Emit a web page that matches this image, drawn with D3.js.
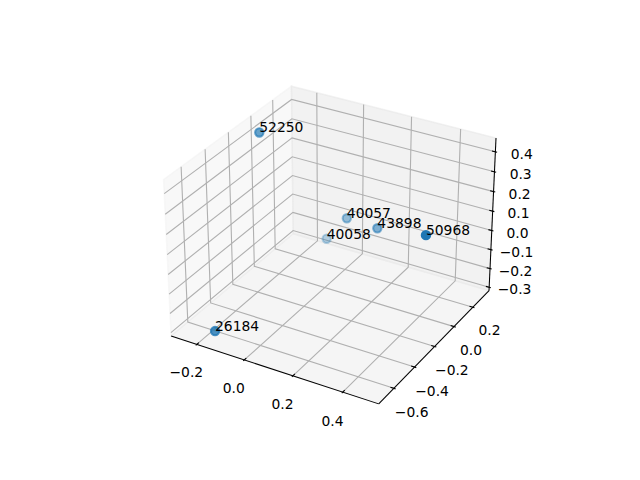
<!DOCTYPE html>
<html>
<head>
<meta charset="utf-8">
<script src="https://cdn.jsdelivr.net/npm/d3@7"></script>
<style>
  body { margin: 0; background: #fff; }
  text { font-family: "DejaVu Sans", sans-serif; font-size: 13.89px; fill: #000; }
</style>
</head>
<body>
<svg id="vis" width="640" height="480"></svg>
<script>
// point labels and their 3D coordinates
var labels = ["26184", "52250", "50968", "40058", "40057", "43898"];
var xs = [-0.156, -0.256, 0.487, -0.127, -0.007, 0.147];
var ys = [-0.671, -0.040, -0.180, 0.306, 0.233, 0.177];
var zs = [-0.268, 0.418, 0.217, -0.247, -0.061, -0.034];

// tick values
var xTicks = [-0.2, 0.0, 0.2, 0.4];
var yTicks = [-0.6, -0.4, -0.2, 0.0, 0.2];
var zTicks = [-0.3, -0.2, -0.1, 0.0, 0.1, 0.2, 0.3, 0.4];

(function () {
    var svg = d3.select("#vis");
    var fs = 13.89;

    // view like matplotlib's default 3D axes: elev 30, azim -60, dist 10
    var dist = 10;
    var elev = 30 * Math.PI / 180, azim = -60 * Math.PI / 180;
    var aspect = [4, 4, 3].map(function (a) { return a * 1.8294640721620434 / Math.sqrt(41); });
    var R = aspect.map(function (a) { return a / 2; });

    var w = [Math.cos(elev) * Math.cos(azim), Math.cos(elev) * Math.sin(azim), Math.sin(elev)];
    var u = [-w[1], w[0], 0];
    var un = Math.hypot(u[0], u[1]);
    u = [u[0] / un, u[1] / un, 0];
    var v = [w[1] * u[2] - w[2] * u[1], w[2] * u[0] - w[0] * u[2], w[0] * u[1] - w[1] * u[0]];

    function dot(a, b) { return a[0] * b[0] + a[1] * b[1] + a[2] * b[2]; }

    // square axes box inside the default subplot area
    var side = 0.77 * 480;
    var left = 80 + (496 - side) / 2, top = 57.6;
    var px2 = d3.scaleLinear().domain([-0.95 / dist, 0.9 / dist]).range([left, left + side]);
    var py2 = d3.scaleLinear().domain([-0.95 / dist, 0.9 / dist]).range([top + side, top]);

    // world point -> [screen x, screen y, depth]
    function proj(p) {
        var d = [p[0] - R[0], p[1] - R[1], p[2] - R[2]];
        var D = dist - dot(w, d);
        return [px2(dot(u, d) / D), py2(dot(v, d) / D), -dist / D];
    }

    // data -> world scales with 5% margins
    function lim(a) {
        var e = d3.extent(a), r = e[1] - e[0];
        return [e[0] - 0.05 * r, e[1] + 0.05 * r];
    }
    var sx = d3.scaleLinear().domain(lim(xs)).range([0, aspect[0]]);
    var sy = d3.scaleLinear().domain(lim(ys)).range([0, aspect[1]]);
    var sz = d3.scaleLinear().domain(lim(zs)).range([0, aspect[2]]);

    var lo = aspect.map(function (a) { return -a / 48; });
    var hi = aspect.map(function (a) { return a * 49 / 48; });
    var delta = aspect.map(function (a) { return a / 12; });

    var line = d3.line();
    function path3(pts) { return line(pts.map(function (p) { return proj(p).slice(0, 2); })); }

    // panes
    var panes = [
        {c: "rgba(242,242,242,0.5)", p: [[lo[0], lo[1], lo[2]], [lo[0], hi[1], lo[2]], [lo[0], hi[1], hi[2]], [lo[0], lo[1], hi[2]]]},
        {c: "rgba(230,230,230,0.5)", p: [[lo[0], hi[1], lo[2]], [hi[0], hi[1], lo[2]], [hi[0], hi[1], hi[2]], [lo[0], hi[1], hi[2]]]},
        {c: "rgba(236,236,236,0.5)", p: [[lo[0], lo[1], lo[2]], [hi[0], lo[1], lo[2]], [hi[0], hi[1], lo[2]], [lo[0], hi[1], lo[2]]]}
    ];
    svg.selectAll("path.pane").data(panes).enter().append("path")
        .attr("class", "pane")
        .attr("d", function (d) { return path3(d.p) + "Z"; })
        .attr("fill", function (d) { return d.c; })
        .attr("stroke", function (d) { return d.c; })
        .attr("stroke-width", 1.39);

    // grid lines
    var grid = [];
    xTicks.forEach(function (t) { var x = sx(t); grid.push([[x, lo[1], lo[2]], [x, hi[1], lo[2]], [x, hi[1], hi[2]]]); });
    yTicks.forEach(function (t) { var y = sy(t); grid.push([[hi[0], y, lo[2]], [lo[0], y, lo[2]], [lo[0], y, hi[2]]]); });
    zTicks.forEach(function (t) { var z = sz(t); grid.push([[lo[0], lo[1], z], [lo[0], hi[1], z], [hi[0], hi[1], z]]); });
    svg.selectAll("path.grid").data(grid).enter().append("path")
        .attr("class", "grid")
        .attr("d", path3)
        .attr("fill", "none")
        .attr("stroke", "#b0b0b0")
        .attr("stroke-width", 1.11);

    // axis lines
    var axes = [
        [[lo[0], lo[1], lo[2]], [hi[0], lo[1], lo[2]]],
        [[hi[0], lo[1], lo[2]], [hi[0], hi[1], lo[2]]],
        [[hi[0], hi[1], lo[2]], [hi[0], hi[1], hi[2]]]
    ];
    svg.selectAll("path.axis").data(axes).enter().append("path")
        .attr("class", "axis")
        .attr("d", path3)
        .attr("fill", "none")
        .attr("stroke", "#000")
        .attr("stroke-width", 1.04);

    // ticks and tick labels
    var f = 11.5 * 48 / (72 * 2 * side / 100);
    var fmt = function (t) { return d3.format(".1f")(t).replace("-", "\u2212"); };
    var tickMarks = [], tickLabels = [];
    xTicks.forEach(function (t) {
        var x = sx(t);
        tickMarks.push([[x, lo[1] - 0.1 * delta[1], lo[2]], [x, lo[1] + 0.2 * delta[1], lo[2]]]);
        tickLabels.push({t: t, p: [x, lo[1] - f * delta[1], lo[2] - f * delta[2]]});
    });
    yTicks.forEach(function (t) {
        var y = sy(t);
        tickMarks.push([[hi[0] + 0.1 * delta[0], y, lo[2]], [hi[0] - 0.2 * delta[0], y, lo[2]]]);
        tickLabels.push({t: t, p: [hi[0] + f * delta[0], y, lo[2] - f * delta[2]]});
    });
    zTicks.forEach(function (t) {
        var z = sz(t);
        tickMarks.push([[hi[0] + 0.1 * delta[0], hi[1], z], [hi[0] - 0.2 * delta[0], hi[1], z]]);
        tickLabels.push({t: t, p: [hi[0] + f * delta[0], hi[1] + f * delta[1], z]});
    });
    svg.selectAll("path.tick").data(tickMarks).enter().append("path")
        .attr("class", "tick")
        .attr("d", path3)
        .attr("stroke", "#000")
        .attr("stroke-width", 1.11);
    svg.selectAll("text.ticklabel").data(tickLabels).enter().append("text")
        .attr("class", "ticklabel")
        .attr("x", function (d) { return proj(d.p)[0]; })
        .attr("y", function (d) { return proj(d.p)[1] + 0.76 * fs; })
        .attr("text-anchor", "middle")
        .text(function (d) { return fmt(d.t); });

    // scatter points with depth shading
    var pts = labels.map(function (l, i) {
        var q = proj([sx(xs[i]), sy(ys[i]), sz(zs[i])]);
        return {label: l, x: q[0], y: q[1], z: q[2]};
    });
    var zext = d3.extent(pts, function (d) { return d.z; });
    var zn = d3.scaleLinear().domain(zext).range([0, 1]);
    pts.forEach(function (d) { d.a = 1 - 0.7 * zn(d.z); });
    pts.sort(function (a, b) { return b.z - a.z; });

    svg.selectAll("circle.pt").data(pts).enter().append("circle")
        .attr("class", "pt")
        .attr("cx", function (d) { return d.x; })
        .attr("cy", function (d) { return d.y; })
        .attr("r", 4.17)
        .attr("fill", "#1f77b4")
        .attr("fill-opacity", function (d) { return d.a; })
        .attr("stroke", "#1f77b4")
        .attr("stroke-opacity", function (d) { return d.a; })
        .attr("stroke-width", 2.08);

    svg.selectAll("text.lbl").data(pts).enter().append("text")
        .attr("class", "lbl")
        .attr("x", function (d) { return d.x; })
        .attr("y", function (d) { return d.y; })
        .text(function (d) { return d.label; });
})();
</script>
</body>
</html>
